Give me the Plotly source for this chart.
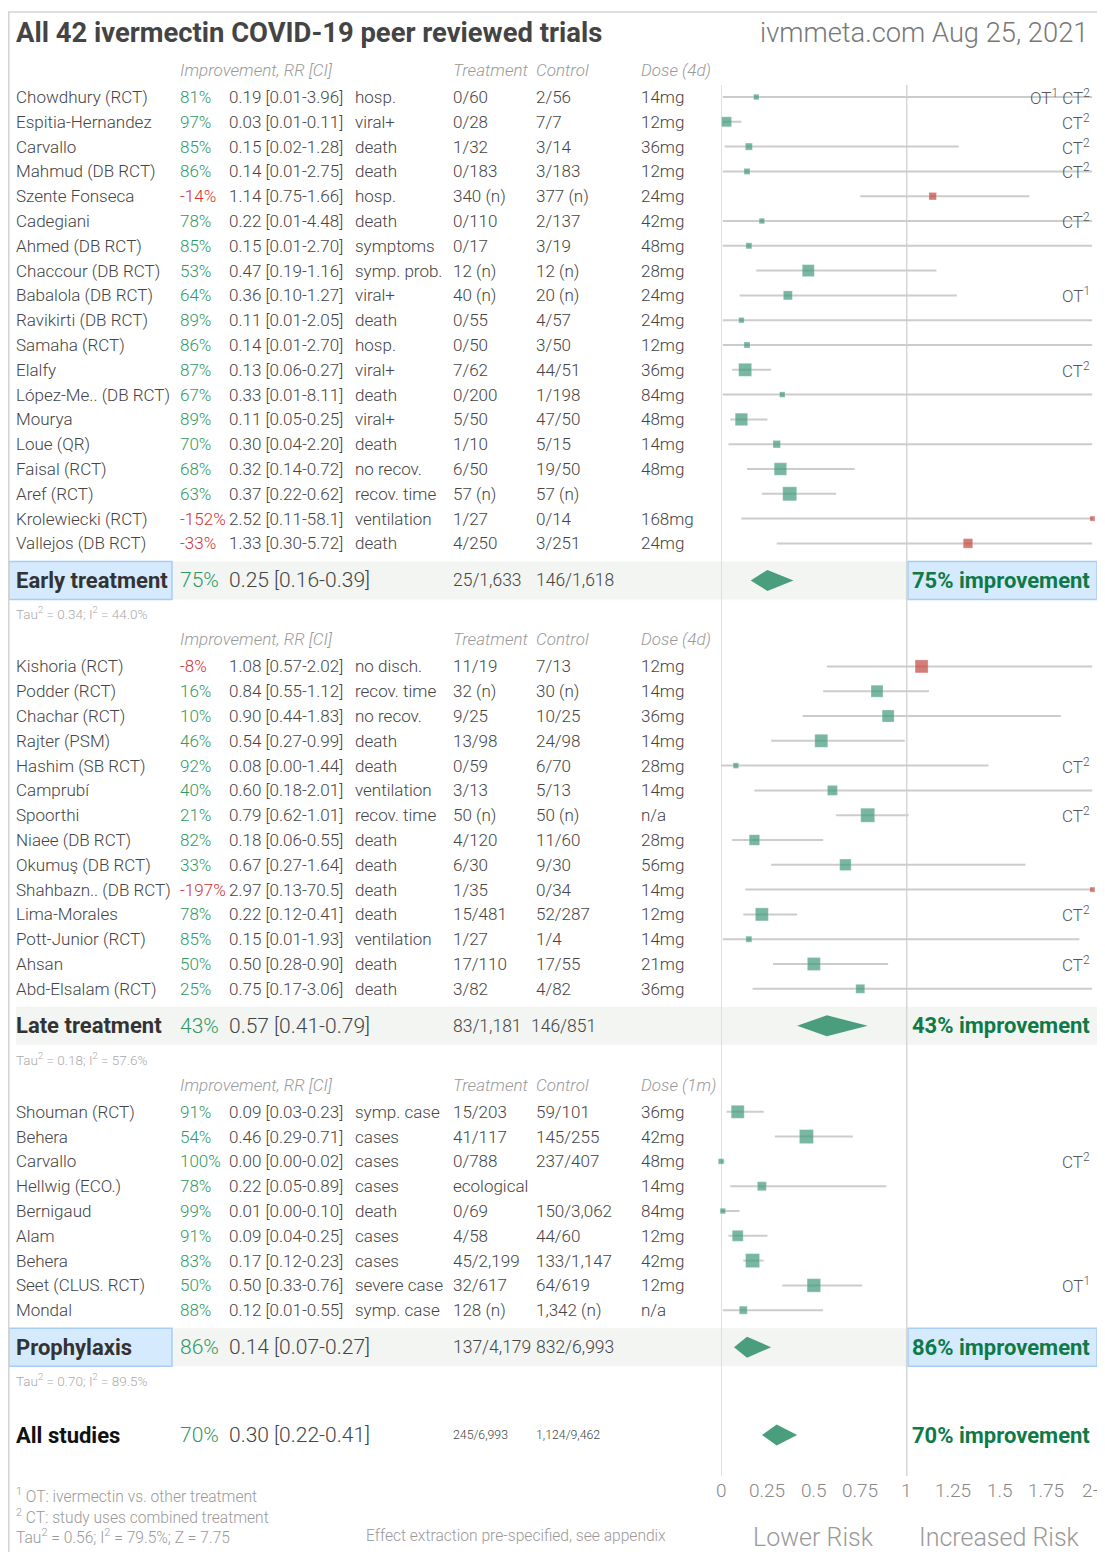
import plotly.graph_objects as go

W, H = 1105, 1552          # browser window (page pixels)
BODY = 8                   # default page margin around the plot div
FONT = "Roboto"

# ------------------------------------------------------------------ data
early_names = ["Chowdhury (RCT)", "Espitia-Hernandez", "Carvallo", "Mahmud (DB RCT)", "Szente Fonseca",
               "Cadegiani", "Ahmed (DB RCT)", "Chaccour (DB RCT)", "Babalola (DB RCT)", "Ravikirti (DB RCT)",
               "Samaha (RCT)", "Elalfy", "López-Me.. (DB RCT)", "Mourya", "Loue (QR)", "Faisal (RCT)",
               "Aref (RCT)", "Krolewiecki (RCT)", "Vallejos (DB RCT)"]
early_impr = [81, 97, 85, 86, -14, 78, 85, 53, 64, 89, 86, 87, 67, 89, 70, 68, 63, -152, -33]
early_rr = [0.19, 0.03, 0.15, 0.14, 1.14, 0.22, 0.15, 0.47, 0.36, 0.11, 0.14, 0.13, 0.33, 0.11, 0.30, 0.32, 0.37, 2.52, 1.33]
early_lo = [0.01, 0.01, 0.02, 0.01, 0.75, 0.01, 0.01, 0.19, 0.10, 0.01, 0.01, 0.06, 0.01, 0.05, 0.04, 0.14, 0.22, 0.11, 0.30]
early_hi = [3.96, 0.11, 1.28, 2.75, 1.66, 4.48, 2.70, 1.16, 1.27, 2.05, 2.70, 0.27, 8.11, 0.25, 2.20, 0.72, 0.62, 58.1, 5.72]
early_outcome = ["hosp.", "viral+", "death", "death", "hosp.", "death", "symptoms", "symp. prob.", "viral+", "death",
                 "hosp.", "viral+", "death", "viral+", "death", "no recov.", "recov. time", "ventilation", "death"]
early_treat = ["0/60", "0/28", "1/32", "0/183", "340 (n)", "0/110", "0/17", "12 (n)", "40 (n)", "0/55",
               "0/50", "7/62", "0/200", "5/50", "1/10", "6/50", "57 (n)", "1/27", "4/250"]
early_ctrl = ["2/56", "7/7", "3/14", "3/183", "377 (n)", "2/137", "3/19", "12 (n)", "20 (n)", "4/57",
              "3/50", "44/51", "1/198", "47/50", "5/15", "19/50", "57 (n)", "0/14", "3/251"]
early_dose = ["14mg", "12mg", "36mg", "12mg", "24mg", "42mg", "48mg", "28mg", "24mg", "24mg",
              "12mg", "36mg", "84mg", "48mg", "14mg", "48mg", "", "168mg", "24mg"]
early_note = ["OT1 CT2", "CT2", "CT2", "CT2", "", "CT2", "", "", "OT1", "",
              "", "CT2", "", "", "", "", "", "", ""]
early_weight = [5.5, 10, 7, 6, 7.5, 5.5, 6, 12, 9, 5.5, 6, 13, 5.5, 12.5, 7.5, 12.5, 14, 5, 9.5]

late_names = ["Kishoria (RCT)", "Podder (RCT)", "Chachar (RCT)", "Rajter (PSM)", "Hashim (SB RCT)", "Camprubí",
              "Spoorthi", "Niaee (DB RCT)", "Okumuş (DB RCT)", "Shahbazn.. (DB RCT)", "Lima-Morales",
              "Pott-Junior (RCT)", "Ahsan", "Abd-Elsalam (RCT)"]
late_impr = [-8, 16, 10, 46, 92, 40, 21, 82, 33, -197, 78, 85, 50, 25]
late_rr = [1.08, 0.84, 0.90, 0.54, 0.08, 0.60, 0.79, 0.18, 0.67, 2.97, 0.22, 0.15, 0.50, 0.75]
late_lo = [0.57, 0.55, 0.44, 0.27, 0.00, 0.18, 0.62, 0.06, 0.27, 0.13, 0.12, 0.01, 0.28, 0.17]
late_hi = [2.02, 1.12, 1.83, 0.99, 1.44, 2.01, 1.01, 0.55, 1.64, 70.5, 0.41, 1.93, 0.90, 3.06]
late_outcome = ["no disch.", "recov. time", "no recov.", "death", "death", "ventilation", "recov. time", "death",
                "death", "death", "death", "ventilation", "death", "death"]
late_treat = ["11/19", "32 (n)", "9/25", "13/98", "0/59", "3/13", "50 (n)", "4/120", "6/30", "1/35", "15/481",
              "1/27", "17/110", "3/82"]
late_ctrl = ["7/13", "30 (n)", "10/25", "24/98", "6/70", "5/13", "50 (n)", "11/60", "9/30", "0/34", "52/287",
             "1/4", "17/55", "4/82"]
late_dose = ["12mg", "14mg", "36mg", "14mg", "28mg", "14mg", "n/a", "28mg", "56mg", "14mg", "12mg", "14mg",
             "21mg", "36mg"]
late_note = ["", "", "", "", "CT2", "", "CT2", "", "", "", "CT2", "", "CT2", ""]
late_weight = [13, 12, 12, 13, 5.5, 10, 14, 10.5, 11.5, 5, 13, 6, 13, 9]

proph_names = ["Shouman (RCT)", "Behera", "Carvallo", "Hellwig (ECO.)", "Bernigaud", "Alam", "Behera",
               "Seet (CLUS. RCT)", "Mondal"]
proph_impr = [91, 54, 100, 78, 99, 91, 83, 50, 88]
proph_rr = [0.09, 0.46, 0.00, 0.22, 0.01, 0.09, 0.17, 0.50, 0.12]
proph_lo = [0.03, 0.29, 0.00, 0.05, 0.00, 0.04, 0.12, 0.33, 0.01]
proph_hi = [0.23, 0.71, 0.02, 0.89, 0.10, 0.25, 0.23, 0.76, 0.55]
proph_outcome = ["symp. case", "cases", "cases", "cases", "death", "cases", "cases", "severe case", "symp. case"]
proph_treat = ["15/203", "41/117", "0/788", "ecological", "0/69", "4/58", "45/2,199", "32/617", "128 (n)"]
proph_ctrl = ["59/101", "145/255", "237/407", "", "150/3,062", "44/60", "133/1,147", "64/619", "1,342 (n)"]
proph_dose = ["36mg", "42mg", "48mg", "14mg", "84mg", "12mg", "42mg", "12mg", "n/a"]
proph_note = ["", "", "CT2", "", "", "", "", "OT1", ""]
proph_weight = [13, 14, 5.5, 9, 5.5, 11, 14, 13.5, 8]

summary_labels = ["Early treatment", "Late treatment", "Prophylaxis"]
summary_impr = [75, 43, 86]
summary_rr = [0.25, 0.57, 0.14]
summary_lo = [0.16, 0.41, 0.07]
summary_hi = [0.39, 0.79, 0.27]
summary_treat = ["25/1,633", "83/1,181", "137/4,179"]
summary_ctrl = ["146/1,618", "146/851", "832/6,993"]
summary_tau2 = ["0.34", "0.18", "0.70"]
summary_i2 = ["44.0%", "57.6%", "89.5%"]
dose_headers = ["Dose (4d)", "Dose (4d)", "Dose (1m)"]

all_label = "All studies"
all_impr = 70
all_rr, all_lo, all_hi = 0.30, 0.22, 0.41
all_treat, all_ctrl = "245/6,993", "1,124/9,462"
all_stats = "Tau<sup>2</sup> = 0.56; I<sup>2</sup> = 79.5%; Z = 7.75"

tick_vals = [0, 0.25, 0.5, 0.75, 1, 1.25, 1.5, 1.75, 2]
tick_text = ["0", "0.25", "0.5", "0.75", "1", "1.25", "1.5", "1.75", "2+"]
RR_CAP = 2.0

title = "All 42 ivermectin COVID-19 peer reviewed trials"
subtitle = "ivmmeta.com Aug 25, 2021"
footnotes = ["<sup>1</sup> OT: ivermectin vs. other treatment",
             "<sup>2</sup> CT: study uses combined treatment"]
extraction_note = "Effect extraction pre-specified, see appendix"

# ------------------------------------------------------------------ style / layout (page pixel coords)
X_NAME, X_PCT, X_RR, X_OUT, X_TRT, X_CTL, X_DOSE, X_NOTE = 16, 180, 229, 355, 453, 536, 641, 1090
ROW_H = 24.8
X0_PIX, X2_PIX = 721.0, 1092.4      # pixel of RR=0 and RR=2
GREEN = "#40997a"
RED = "#c4463f"
PCT_GREEN = "#2f9966"
PCT_RED = "#cc3333"
IMP_GREEN = "#0e7a48"
TXT = "#444444"
GRAY = "#999999"
CI_COL = "#cccccc"
BAND = "#f3f5f2"
BLUE_FILL = "#d6eafd"
BLUE_LINE = "#a8cdf3"
ROW_FS = 17

ann = []
shapes = []


def txt(x, y, s, size=ROW_FS, color=TXT, xanchor="left", weight=300, style="normal", xref="x"):
    ann.append(dict(x=x, y=y, xref=xref, yref="y", text=s, showarrow=False, xanchor=xanchor,
                    yanchor="middle", borderpad=0, borderwidth=0,
                    font=dict(family=FONT, size=size, color=color, weight=weight, style=style)))


def fmt_ci(v):
    return f"{v:.2f}" if v < 10 else f"{v:.1f}"


def rr_text(r, lo, hi):
    return f"{fmt_ci(r)} [{fmt_ci(lo)}-{fmt_ci(hi)}]"


def note_html(n):
    return n.replace("OT1", "OT<sup>1</sup>").replace("CT2", "CT<sup>2</sup>")


sections = [
    (early_names, early_impr, early_rr, early_lo, early_hi, early_outcome, early_treat, early_ctrl, early_dose, early_note, early_weight),
    (late_names, late_impr, late_rr, late_lo, late_hi, late_outcome, late_treat, late_ctrl, late_dose, late_note, late_weight),
    (proph_names, proph_impr, proph_rr, proph_lo, proph_hi, proph_outcome, proph_treat, proph_ctrl, proph_dose, proph_note, proph_weight),
]

ci_x, ci_y = [], []
mk_x, mk_y, mk_s, mk_c = [], [], [], []
diamonds = []

top = 70.0
for si, sec in enumerate(sections):
    names, impr, rr, lo, hi, outc, trt, ctl, dose, note, wt = sec
    hdr_style = dict(size=17, color=GRAY, style="italic")
    txt(X_PCT, top, "Improvement, RR [CI]", **hdr_style)
    txt(X_TRT, top, "Treatment", **hdr_style)
    txt(X_CTL, top, "Control", **hdr_style)
    txt(X_DOSE, top, dose_headers[si], **hdr_style)
    ys = [top + 27 + i * ROW_H for i in range(len(names))]
    for i, y in enumerate(ys):
        txt(X_NAME, y, names[i])
        txt(X_PCT, y, f"{impr[i]}%", color=PCT_GREEN if impr[i] >= 0 else PCT_RED)
        txt(X_RR, y, rr_text(rr[i], lo[i], hi[i]))
        txt(X_OUT, y, outc[i])
        txt(X_TRT, y, trt[i])
        if ctl[i]:
            txt(X_CTL, y, ctl[i])
        if dose[i]:
            txt(X_DOSE, y, dose[i])
        if note[i]:
            txt(X_NOTE, y, note_html(note[i]), size=17, color="#555555", xanchor="right")
        ci_x += [lo[i], min(hi[i], RR_CAP), None]
        ci_y += [y, y, None]
        mk_x.append(min(rr[i], RR_CAP))
        mk_y.append(y)
        mk_s.append(wt[i])
        mk_c.append(GREEN if rr[i] <= 1 else RED)
    sy = ys[-1] + 37
    if si == 1:
        shapes.append(dict(type="rect", xref="x", yref="y", x0=16, x1=1100, y0=sy - 19, y1=sy + 19,
                           fillcolor=BAND, line_width=0, layer="below"))
    else:
        shapes.append(dict(type="rect", xref="x", yref="y", x0=172, x1=906, y0=sy - 19, y1=sy + 19,
                           fillcolor=BAND, line_width=0, layer="below"))
        shapes.append(dict(type="rect", xref="x", yref="y", x0=9, x1=172, y0=sy - 19, y1=sy + 19,
                           fillcolor=BLUE_FILL, line=dict(color=BLUE_LINE, width=1.5), layer="below"))
        shapes.append(dict(type="rect", xref="x", yref="y", x0=908, x1=1097, y0=sy - 19, y1=sy + 19,
                           fillcolor=BLUE_FILL, line=dict(color=BLUE_LINE, width=1.5), layer="below"))
    txt(X_NAME, sy, summary_labels[si], size=22, color="#333333", weight=700)
    txt(X_PCT, sy, f"{summary_impr[si]}%", size=21, color=PCT_GREEN)
    txt(X_RR, sy, rr_text(summary_rr[si], summary_lo[si], summary_hi[si]), size=21)
    txt(X_TRT, sy, summary_treat[si], size=17.5)
    txt(531 if si == 1 else X_CTL, sy, summary_ctrl[si], size=17.5)
    txt(X_NOTE, sy, f"{summary_impr[si]}% improvement", size=22, color=IMP_GREEN, weight=700, xanchor="right")
    diamonds.append((summary_lo[si], summary_rr[si], summary_hi[si], sy))
    ty = sy + 33
    txt(X_NAME, ty, f"Tau<sup>2</sup> = {summary_tau2[si]}; I<sup>2</sup> = {summary_i2[si]}", size=13.5, color="#aaaaaa")
    top = ty + 26

# all studies
ay = 1435
txt(X_NAME, ay, all_label, size=22, color="#111111", weight=700)
txt(X_PCT, ay, f"{all_impr}%", size=21, color=PCT_GREEN)
txt(X_RR, ay, rr_text(all_rr, all_lo, all_hi), size=21)
txt(X_TRT, ay, all_treat, size=12.3)
txt(X_CTL, ay, all_ctrl, size=12.3)
txt(X_NOTE, ay, f"{all_impr}% improvement", size=22, color=IMP_GREEN, weight=700, xanchor="right")
diamonds.append((all_lo, all_rr, all_hi, ay))

# title
txt(X_NAME, 33, title, size=27.4, color="#444444", weight=700)
txt(1088, 33, subtitle, size=27.3, color="#777777", xanchor="right")

# footer
txt(X_NAME, 1495, footnotes[0], size=15.6, color=GRAY)
txt(X_NAME, 1516, footnotes[1], size=15.6, color=GRAY)
txt(X_NAME, 1536, all_stats, size=15.6, color=GRAY)
txt(366, 1536, extraction_note, size=15.6, color=GRAY)
for v, t in zip(tick_vals, tick_text):
    txt(v, 1490, t, size=19, color="#888888", xanchor="center", xref="x2")
txt(0.5, 1537, "Lower Risk", size=25, color="#999999", xanchor="center", xref="x2")
txt(1.5, 1537, "Increased Risk", size=25, color="#999999", xanchor="center", xref="x2")

# frame & reference lines
shapes.append(dict(type="rect", xref="x", yref="y", x0=BODY + 0.8, x1=1103.5, y0=12, y1=1565,
                   line=dict(color="#d4d4d4", width=1.5), fillcolor="rgba(0,0,0,0)", layer="below"))
for v in (0, 1):
    shapes.append(dict(type="line", xref="x2", yref="y", x0=v, x1=v, y0=85, y1=1476,
                       line=dict(color="#d6d6d6", width=1.5), layer="below"))

fig = go.Figure()
fig.add_trace(go.Scatter(x=ci_x, y=ci_y, xaxis="x2", yaxis="y", mode="lines",
                         line=dict(color=CI_COL, width=2), hoverinfo="skip", cliponaxis=False))
fig.add_trace(go.Scatter(x=mk_x, y=mk_y, xaxis="x2", yaxis="y", mode="markers", cliponaxis=False,
                         marker=dict(symbol="square", size=mk_s, color=mk_c,
                                     line=dict(color="rgba(255,255,255,0.35)", width=0.8)),
                         hoverinfo="skip"))
DH = 10.5
for lo, r, hi, y in diamonds:
    fig.add_trace(go.Scatter(x=[lo, r, hi, r, lo], y=[y, y - DH, y, y + DH, y], xaxis="x2", yaxis="y",
                             mode="lines", fill="toself", fillcolor="#4a9e7d", line=dict(width=0, color="#4a9e7d"),
                             hoverinfo="skip", cliponaxis=False))

FW, FH = W - BODY, H - BODY
fig.update_layout(
    width=FW, height=FH, margin=dict(l=0, r=0, t=0, b=0),
    paper_bgcolor="white", plot_bgcolor="rgba(0,0,0,0)",
    showlegend=False, hovermode=False,
    xaxis=dict(range=[BODY, W], domain=[0, 1], visible=False, fixedrange=True, anchor="y"),
    xaxis2=dict(range=[0, 2], domain=[(X0_PIX - BODY) / FW, (X2_PIX - BODY) / FW],
                visible=False, fixedrange=True, anchor="y"),
    yaxis=dict(range=[H, BODY], domain=[0, 1], visible=False, fixedrange=True, anchor="x"),
    annotations=ann, shapes=shapes,
)
fig.write_html("out.html")
